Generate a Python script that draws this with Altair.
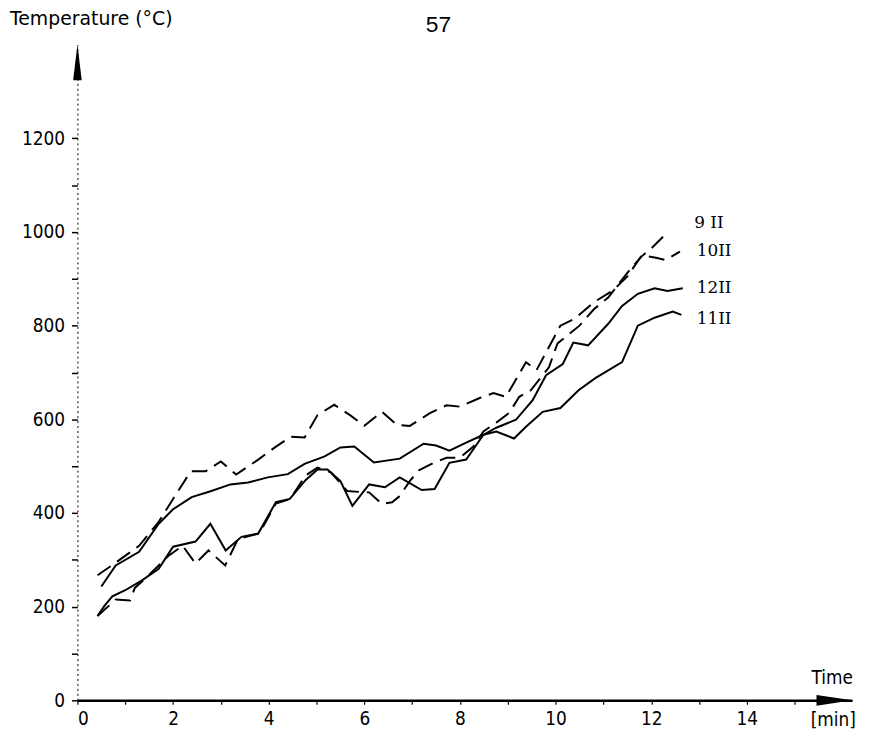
import altair as alt
import pandas as pd

# ---- data ----
t_9 = [0.42, 0.8, 1.1, 1.2, 1.5, 1.9, 2.2, 2.47, 2.74, 3.09, 3.36, 3.8, 4.15, 4.45, 4.77, 5.02, 5.3, 5.64,
       5.89, 6.1, 6.37, 6.58, 6.74, 6.95, 7.14, 7.45, 7.72, 8.0, 8.28, 8.49, 8.76, 9.03, 9.24, 9.48, 9.86,
       10.04, 10.5, 10.8, 11.1, 11.4, 11.6, 11.8, 12.0, 12.3]
T_9 = [180, 215, 213, 240, 268, 308, 330, 292, 320, 288, 345, 356, 420, 430, 480, 497, 487, 447,
       445, 444, 419, 423, 436, 468, 491, 507, 518, 518, 542, 574, 593, 614, 648, 662, 711,
       762, 800, 835, 860, 900, 925, 948, 965, 995]

t_10 = [0.42, 0.83, 1.29, 1.7, 2.0, 2.37, 2.68, 3.0, 3.32, 3.78, 4.13, 4.46, 4.75, 5.02, 5.37, 5.7, 6.0,
        6.37, 6.68, 6.95, 7.37, 7.72, 8.0, 8.4, 8.7, 8.96, 9.38, 9.6, 10.1, 10.4, 10.8, 11.2, 11.5, 11.8,
        12.1, 12.3, 12.6]
T_10 = [267, 296, 330, 381, 430, 489, 489, 510, 482, 514, 540, 563, 561, 609, 631, 609, 586,
        616, 588, 586, 613, 630, 627, 645, 656, 648, 722, 705, 800, 815, 850, 875, 905, 950,
        945, 940, 958]

t_11 = [0.42, 0.56, 0.73, 1.0, 1.35, 1.7, 2.0, 2.47, 2.78, 3.1, 3.43, 3.78, 4.15, 4.44, 4.77, 5.02, 5.23,
        5.5, 5.75, 6.1, 6.43, 6.74, 7.2, 7.47, 7.78, 8.13, 8.49, 8.76, 9.13, 9.38, 9.73, 10.1, 10.48,
        10.83, 11.39, 11.72, 12.07, 12.45, 12.63]
T_11 = [180, 201, 222, 235, 256, 281, 328, 339, 377, 320, 349, 356, 423, 430, 470, 493, 493,
        468, 415, 461, 455, 476, 449, 451, 507, 514, 567, 574, 559, 584, 616, 624, 662,
        688, 722, 800, 817, 830, 823]

t_12 = [0.5, 0.8, 1.29, 1.7, 2.0, 2.39, 2.8, 3.2, 3.57, 3.98, 4.4, 4.75, 5.17, 5.5, 5.79, 6.2, 6.74,
        7.24, 7.5, 7.78, 8.13, 8.49, 8.76, 9.17, 9.52, 9.8, 10.15, 10.37, 10.68, 11.1, 11.39, 11.72,
        12.07, 12.34, 12.66]
T_12 = [243, 288, 317, 377, 408, 434, 447, 461, 465, 476, 483, 505, 521, 540, 542, 508, 516,
        548, 544, 533, 550, 567, 582, 599, 641, 694, 718, 764, 758, 804, 842, 868,
        880, 874, 880]

series_names = ["9 II", "10II", "11II", "12II"]
series_dashed = [True, True, False, False]
label_t = [12.9, 12.95, 12.95, 12.95]
label_T = [1020, 960, 815, 880]

y_ticks = list(range(0, 1300, 100))
x_ticks = list(range(0, 16))

FONT = "DejaVu Sans Condensed"

rows = []
for name, ts, Ts, dashed in zip(series_names, [t_9, t_10, t_11, t_12], [T_9, T_10, T_11, T_12], series_dashed):
    for i, (a, b) in enumerate(zip(ts, Ts)):
        rows.append({"series": name, "t": a, "T": b, "order": i, "dashed": dashed})
df = pd.DataFrame(rows)

labels_df = pd.DataFrame({"series": series_names, "t": label_t, "T": label_T})

xscale = alt.Scale(domain=[0, 16.2], nice=False, zero=False)
yscale = alt.Scale(domain=[0, 1400], nice=False)

x_axis = alt.Axis(values=x_ticks, labelExpr="datum.value % 2 == 0 && datum.value <= 14 ? datum.label : ''",
                  title=None, grid=False, domainColor="black", domainWidth=2.5, tickColor="black",
                  tickSize=4, tickWidth=1.2, labelFont=FONT, labelFontSize=19, labelColor="black",
                  labelPadding=5, format="d")
y_axis = alt.Axis(values=y_ticks, labelExpr="datum.value % 200 == 0 ? datum.label : ''",
                  title=None, grid=False, domainColor="black", domainWidth=1, domainDash=[2, 3],
                  tickColor="black", tickSize=6, tickWidth=1.5, labelFont=FONT, labelFontSize=19,
                  labelColor="black", labelPadding=7, format="d")

base = alt.Chart(df)
solid = base.transform_filter("!datum.dashed").mark_line(color="black", strokeWidth=2).encode(
    x=alt.X("t:Q", scale=xscale, axis=x_axis),
    y=alt.Y("T:Q", scale=yscale, axis=y_axis),
    detail="series:N",
    order="order:Q",
)
dashed = base.transform_filter("datum.dashed").mark_line(color="black", strokeWidth=2, strokeDash=[16, 8]).encode(
    x=alt.X("t:Q", scale=xscale),
    y=alt.Y("T:Q", scale=yscale),
    detail="series:N",
    order="order:Q",
)

labels = alt.Chart(labels_df).mark_text(align="left", baseline="middle", font="DejaVu Serif",
                                        fontSize=17, color="black").encode(
    x=alt.X("t:Q", scale=xscale), y=alt.Y("T:Q", scale=yscale), text="series:N")

# axis arrow heads
arrows_df = pd.DataFrame({"t": [0.0, 15.83], "T": [1362.0, 0.0],
                          "shape": ["M0,-1L0.24,1L-0.24,1Z", "M1,0L-1,-0.3L-1,0.3Z"]})
arrows = alt.Chart(arrows_df).mark_point(filled=True, color="black", size=1300, opacity=1).encode(
    x=alt.X("t:Q", scale=xscale), y=alt.Y("T:Q", scale=yscale),
    shape=alt.Shape("shape:N", scale=None))

def txt(s, x, y, size, align="left", font=FONT):
    return alt.Chart(pd.DataFrame({"s": [s]})).mark_text(
        align=align, baseline="middle", fontSize=size, font=font, color="black").encode(
        text="s:N", x=alt.value(x), y=alt.value(y))

title = txt("Temperature (°C)", -68, -26, 19, font="DejaVu Sans")
page = txt("57", 364, -20, 23, align="center", font="Liberation Sans")
time_t = txt("Time", 761, 639, 19, align="center")
min_t = txt("[min]", 762, 681, 19, align="center")

chart = alt.layer(dashed, solid, labels, arrows, title, page, time_t, min_t).properties(
    width=781, height=661, autosize="none",
    padding={"left": 70, "top": 34, "right": 10, "bottom": 30},
).configure_view(stroke=None)

chart.save("out.html", embed_options={"renderer": "svg", "actions": False})
